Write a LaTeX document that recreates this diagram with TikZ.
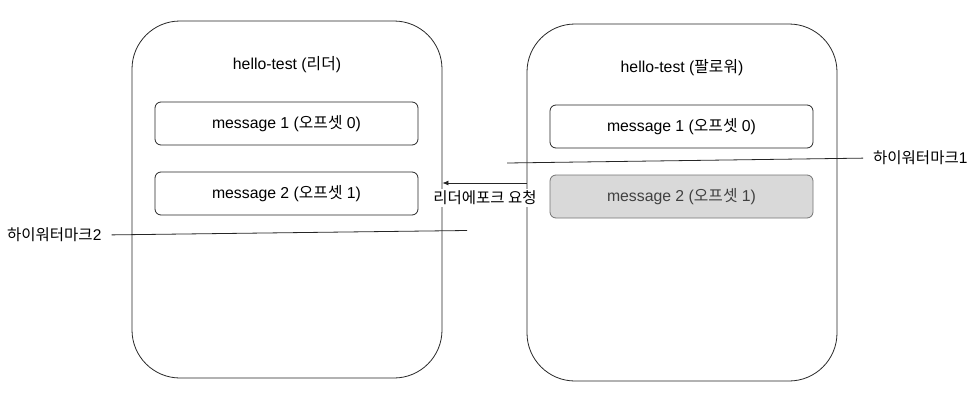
\documentclass[tikz,border=0pt]{standalone}
\usepackage{fontspec}
\setmainfont{Liberation Sans}
\newfontfamily\kr{Noto Sans CJK KR}
\usetikzlibrary{arrows.meta}
\tikzset{
  bigbox/.style={draw=black!85, line width=0.8pt, rounded corners=48pt, minimum width=310pt, minimum height=357pt, inner sep=0pt},
  msgbox/.style={draw=black!85, line width=0.8pt, rounded corners=6pt, minimum width=263pt, minimum height=43pt, inner sep=0pt, font=\fontsize{15.8}{18}\selectfont},
  greybox/.style={msgbox, fill=black!15, draw=black!55, text=black!75},
  title/.style={font=\fontsize{15.8}{18}\selectfont, inner sep=1pt},
  lbl/.style={font=\fontsize{15.5}{18}\selectfont, inner sep=1pt},
  wire/.style={line width=0.8pt, draw=black!85}
}
\begin{document}
\begin{tikzpicture}[x=1pt,y=-1pt]
\useasboundingbox (0,0) rectangle (977,407);
\node[bigbox] (lbox) at (287,199.5) {};
\node[bigbox] (rbox) at (682,202.5) {};
\node[title] (lt) at (287,65) {hello-test ({\kr 리더})};
\node[title] (rt) at (682,68) {hello-test ({\kr 팔로워})};
\node[msgbox] (lm1) at (286.5,123.5) {message 1 ({\kr 오프셋} 0)};
\node[msgbox] (lm2) at (286.5,193.5) {message 2 ({\kr 오프셋} 1)};
\node[msgbox] (rm1) at (681.5,126.5) {message 1 ({\kr 오프셋} 0)};
\node[greybox] (rm2) at (681.5,196.5) {message 2 ({\kr 오프셋} 1)};
% leader epoch request arrow
\coordinate (ya) at (0,183);
\draw[wire, -{Latex[length=6pt,width=5pt]}] (rbox.west |- ya) -- (lbox.east |- ya);
\node[lbl, fill=white, inner sep=2pt] (req) at (485,198) {\kr 리더에포크 요청};
% high water marks
\node[lbl, anchor=west] (hw1) at (872,158) {{\kr 하이워터마크}1};
\coordinate (hw1s) at (507,163);
\draw[wire, shorten >=9pt] (hw1s) -- (hw1.west);
\node[lbl, anchor=west] (hw2) at (6,235) {{\kr 하이워터마크}2};
\coordinate (hw2e) at (467,230.5);
\draw[wire, shorten <=9pt] (hw2.east) -- (hw2e);
\end{tikzpicture}
\end{document}
